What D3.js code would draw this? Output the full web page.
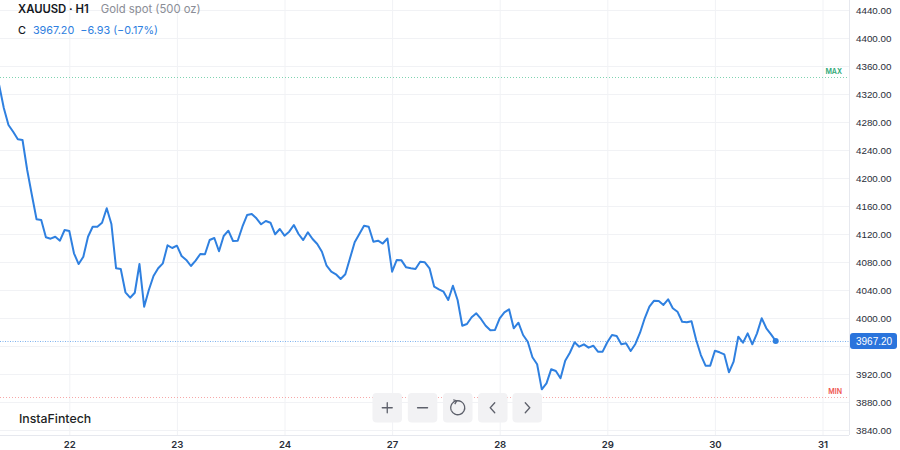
<!DOCTYPE html>
<html>
<head>
<meta charset="utf-8">
<script src="https://cdn.jsdelivr.net/npm/d3@7"></script>
<style>
html, body { margin: 0; padding: 0; background: #ffffff; }
svg { display: block; font-family: Inter, "Noto Sans", sans-serif; }
</style>
</head>
<body>
<svg id="chart" width="900" height="450"></svg>
<script>
// ---------- data ----------
const symbol = "XAUUSD · H1";
const instrumentName = "Gold spot (500 oz)";
const brand = "InstaFintech";
const dayLabels = ["22", "23", "24", "27", "28", "29", "30", "31"];
const yTickValues = [3840, 3880, 3920, 3960, 4000, 4040, 4080, 4120, 4160, 4200, 4240, 4280, 4320, 4360, 4400, 4440];
const barsPerDay = 23;      // hourly bars per trading day
const firstBar = -15;       // index of the first close relative to the "22" boundary
const closes = [
  4333, 4300, 4275.7, 4266.1, 4255.3, 4254.3, 4211.4, 4175.7, 4141, 4140,
  4115.3, 4113.3, 4116.1, 4110.4, 4125.7,
  4124.3, 4092.4, 4077.1, 4087.6, 4116.1, 4130.4, 4130.4, 4136.1, 4156.7, 4134.3,
  4071, 4070, 4036.7, 4029, 4036.1, 4077.1, 4016.1, 4040, 4060, 4071,
  4078.1, 4103.9, 4100,
  4103.3, 4088.6, 4082.9, 4074.3, 4081.9, 4091.4, 4091, 4111.4, 4114.3, 4095.3,
  4117.1, 4124.7, 4110, 4110.4, 4130.4, 4147.1, 4148.6, 4142.4, 4133.9, 4138.6,
  4136.1, 4119.6, 4127.1,
  4117.6, 4123.3, 4132.9, 4120, 4111.4, 4122.4, 4112.9, 4105.7, 4094.7, 4074.7,
  4066.1, 4062.4, 4055.7, 4062.4, 4085.3, 4108.1, 4120, 4131.9, 4130.4, 4109,
  4110.4, 4106.4, 4113.6,
  4066.1, 4082.9, 4082.4, 4072.4, 4071, 4070, 4080.4, 4079.6, 4071, 4044.7,
  4041, 4037.6, 4025.7, 4046.1, 4025.7, 3989, 3991.4, 4001, 4006.7, 3998.6,
  3989, 3982.4, 3982.9,
  3999.6, 4008.1, 4012.4, 3985.3, 3993.3, 3975.7, 3966.1, 3943.9, 3933.9, 3898.1,
  3906.7, 3926.7, 3924.3, 3913.9, 3939, 3950.4, 3965.3, 3959, 3962.4, 3957.6,
  3960.4, 3951.9, 3951.9,
  3965.3, 3975.7, 3974.3, 3962.4, 3963.9, 3952.9, 3962.9, 3979, 3999.6, 4016.1,
  4024.7, 4024.3, 4018.6, 4026.7, 4013.9, 4009, 3994.7, 3993.9, 3995.3, 3968.6,
  3947.1, 3931.9, 3931.9,
  3953.3, 3951, 3948.1, 3922.4, 3937.6, 3973.3, 3964.7, 3978.1, 3962.4, 3978.1,
  3999.6, 3985.3, 3976.7, 3967.2
];
const lastPrice = 3967.20;
const priceChange = -6.93;
const priceChangePct = -0.17;
const sessionMax = 4345;
const sessionMin = 3886.5;

// ---------- layout ----------
const W = 900, H = 450;
const plotRight = 849, plotBottom = 435;
const svg = d3.select("#chart");

const x = d3.scaleLinear()
  .domain([0, barsPerDay * (dayLabels.length - 1)])
  .range([69.3, 822.5]);
const y = d3.scaleLinear()
  .domain([3840, 4440])
  .range([430, 10]);

const points = closes.map((v, i) => ({ i: firstBar + i, v }));
const dayTicks = dayLabels.map((d, k) => k * barsPerDay);
const tagY = y(lastPrice);

svg.append("rect").attr("width", W).attr("height", H).attr("fill", "#ffffff");

svg.append("defs").append("clipPath").attr("id", "plotClip")
  .append("rect").attr("x", 0).attr("y", 0).attr("width", plotRight).attr("height", plotBottom);

// horizontal grid
svg.append("g")
  .call(d3.axisRight(y).tickValues(yTickValues).tickSize(plotRight).tickFormat(""))
  .call(g => g.select(".domain").remove())
  .call(g => g.selectAll("line").attr("stroke", "#f1f2f5").attr("stroke-width", 1));

// vertical grid
svg.append("g")
  .call(d3.axisBottom(x).tickValues(dayTicks).tickSize(plotBottom).tickFormat(""))
  .call(g => g.select(".domain").remove())
  .call(g => g.selectAll("line").attr("stroke", "#f1f2f5").attr("stroke-width", 1));

// axis borders
svg.append("line").attr("x1", plotRight + 0.5).attr("x2", plotRight + 0.5)
  .attr("y1", 0).attr("y2", plotBottom).attr("stroke", "#e6e8ee");
svg.append("line").attr("x1", 0).attr("x2", plotRight)
  .attr("y1", plotBottom + 0.5).attr("y2", plotBottom + 0.5).attr("stroke", "#e6e8ee");

// y-axis labels (the one under the last-price tag is hidden, as in the reference)
svg.append("g")
  .attr("transform", `translate(${plotRight},0)`)
  .call(d3.axisRight(y).tickValues(yTickValues).tickSize(0).tickPadding(7).tickFormat(d3.format(".2f")))
  .call(g => g.select(".domain").remove())
  .call(g => g.selectAll(".tick").filter(d => Math.abs(y(d) - tagY) < 12).remove())
  .call(g => g.selectAll("text")
    .attr("fill", "#2a2e39")
    .style("font-family", "'Liberation Sans', Arial, sans-serif")
    .style("font-size", "9.8px"));

// x-axis labels
svg.append("g")
  .attr("transform", `translate(0,${plotBottom})`)
  .call(d3.axisBottom(x).tickValues(dayTicks).tickSize(0).tickPadding(6)
    .tickFormat((d, k) => dayLabels[k]))
  .call(g => g.select(".domain").remove())
  .call(g => g.selectAll("text")
    .attr("fill", "#2a2e39")
    .style("font-family", "Inter, sans-serif")
    .style("font-weight", "600")
    .style("font-size", "9.6px"));

// max / min lines
const marks = svg.append("g").attr("clip-path", "url(#plotClip)");
marks.append("line")
  .attr("x1", 0).attr("x2", plotRight)
  .attr("y1", Math.round(y(sessionMax)) + 0.5).attr("y2", Math.round(y(sessionMax)) + 0.5)
  .attr("stroke", "#7fd3b0").attr("stroke-width", 1).attr("stroke-dasharray", "1,2");
marks.append("line")
  .attr("x1", 0).attr("x2", plotRight)
  .attr("y1", Math.round(y(sessionMin)) + 0.5).attr("y2", Math.round(y(sessionMin)) + 0.5)
  .attr("stroke", "#f6a8a8").attr("stroke-width", 1).attr("stroke-dasharray", "1,2");
svg.append("text").attr("x", 842).attr("y", y(sessionMax) - 3)
  .attr("text-anchor", "end").attr("fill", "#2ea876")
  .style("font-size", "7px").style("font-weight", "600").text("MAX");
svg.append("text").attr("x", 842).attr("y", y(sessionMin) - 3.5)
  .attr("text-anchor", "end").attr("fill", "#ef5350")
  .style("font-size", "7px").style("font-weight", "600").text("MIN");

// last price line
marks.append("line")
  .attr("x1", 0).attr("x2", plotRight)
  .attr("y1", Math.round(tagY) + 0.5).attr("y2", Math.round(tagY) + 0.5)
  .attr("stroke", "#7fb2ee").attr("stroke-width", 1).attr("stroke-dasharray", "1,1.5");

// price line
const line = d3.line().x(d => x(d.i)).y(d => y(d.v));
marks.append("path")
  .datum(points)
  .attr("fill", "none")
  .attr("stroke", "#2f80e0")
  .attr("stroke-width", 2)
  .attr("stroke-linejoin", "round")
  .attr("d", line);
const last = points[points.length - 1];
svg.append("circle").attr("cx", x(last.i)).attr("cy", y(last.v)).attr("r", 3).attr("fill", "#2f80e0");

// price tag
svg.append("rect").attr("x", plotRight + 1).attr("y", tagY - 8).attr("width", 47).attr("height", 16)
  .attr("rx", 3).attr("fill", "#2a74dc");
svg.append("text").attr("x", plotRight + 7).attr("y", tagY + 3.6)
  .attr("fill", "#ffffff")
  .style("font-family", "'Liberation Sans', Arial, sans-serif")
  .style("font-size", "10px")
  .text(d3.format(".2f")(lastPrice));

// header
const head = svg.append("text").attr("x", 18).attr("y", 12.8).style("font-size", "11.3px");
head.append("tspan").attr("fill", "#131722").style("font-weight", "600").text(symbol);
head.append("tspan").attr("dx", 12).attr("fill", "#8a8d96").text(instrumentName);
const sub = svg.append("text").attr("x", 18).attr("y", 33.5).style("font-size", "10.8px");
sub.append("tspan").attr("fill", "#131722").style("font-weight", "500").text("C");
sub.append("tspan").attr("dx", 7).attr("fill", "#2f80e0").text(d3.format(".2f")(lastPrice));
sub.append("tspan").attr("dx", 6).attr("fill", "#2f80e0")
  .text(`${d3.format(".2f")(priceChange)} (${d3.format(".2f")(priceChangePct)}%)`);

// brand
svg.append("text").attr("x", 19).attr("y", 423.3)
  .attr("fill", "#1d1f24").style("font-size", "12.3px").style("font-weight", "500")
  .text(brand);

// toolbar
const btnX = [372.5, 407.8, 443, 478, 512.5];
const tb = svg.append("g");
btnX.forEach((bx, k) => {
  const g = tb.append("g").attr("transform", `translate(${bx},393)`);
  g.append("rect").attr("width", 29.5).attr("height", 29.5).attr("rx", 4).attr("fill", "#f2f2f4");
  const cx = 14.75, cy = 14.75;
  const st = { stroke: "#5d606b", "stroke-width": 1.3, fill: "none", "stroke-linecap": "round" };
  const p = g.append("path");
  Object.entries(st).forEach(([a, v]) => p.attr(a, v));
  if (k === 0) p.attr("d", `M${cx - 5},${cy} H${cx + 5} M${cx},${cy - 5} V${cy + 5}`);
  if (k === 1) p.attr("d", `M${cx - 5},${cy} H${cx + 5}`);
  if (k === 2) {
    const r = 7;
    p.attr("transform", `translate(${cx},${cy})`)
      .attr("d", d3.arc()({ innerRadius: r, outerRadius: r, startAngle: -0.2, endAngle: 4.3 }));
    const q = g.append("path");
    Object.entries(st).forEach(([a, v]) => q.attr(a, v));
    q.attr("transform", `translate(${cx},${cy})`)
      .attr("d", d3.arc()({ innerRadius: r, outerRadius: r, startAngle: 4.3, endAngle: 6.08 }))
      .attr("stroke-dasharray", "1.5,1.5");
    g.append("path").attr("d", `M${cx - 4.5},${cy - 8} L${cx - 1},${cy - 6.8} L${cx - 3},${cy - 3.6}`)
      .attr("stroke", "#5d606b").attr("stroke-width", 1.3).attr("fill", "none").attr("stroke-linejoin", "round");
  }
  if (k === 3) p.attr("d", `M${cx + 2},${cy - 5} L${cx - 2.5},${cy} L${cx + 2},${cy + 5}`);
  if (k === 4) p.attr("d", `M${cx - 2},${cy - 5} L${cx + 2.5},${cy} L${cx - 2},${cy + 5}`);
});
</script>
</body>
</html>
